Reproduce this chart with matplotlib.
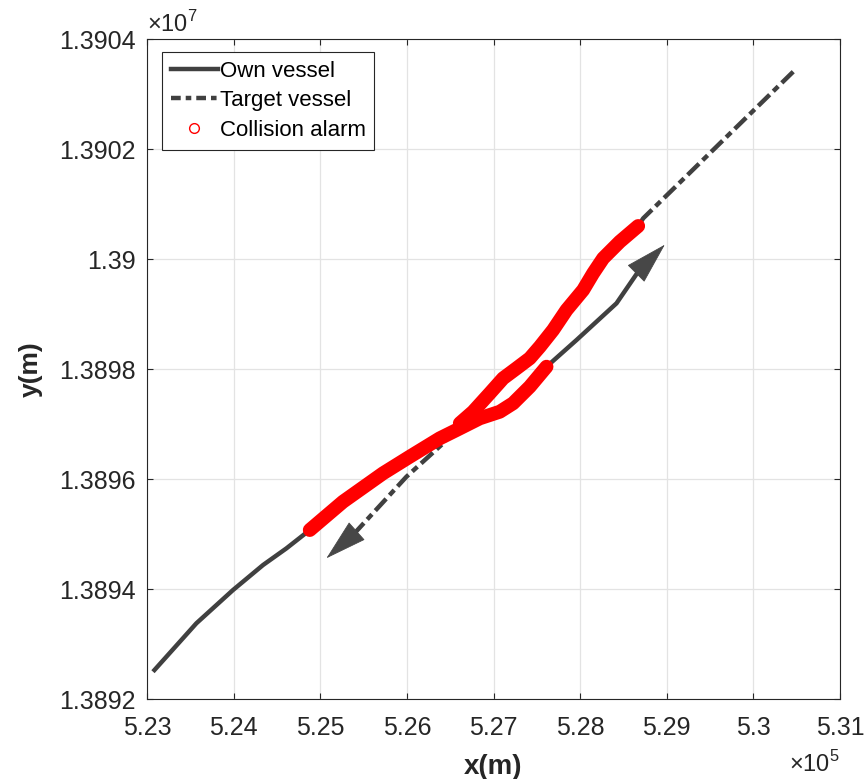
import matplotlib
matplotlib.use('Agg')
import matplotlib.pyplot as plt
from matplotlib.lines import Line2D
from matplotlib.ticker import FuncFormatter

plt.rcParams['font.family'] = ['Liberation Sans', 'DejaVu Sans']
plt.rcParams['mathtext.fontset'] = 'custom'
plt.rcParams['mathtext.rm'] = 'Liberation Sans'
plt.rcParams['lines.scale_dashes'] = False

# ---------------- data (metres) ----------------
own_x = [523069, 523570, 523993, 524340, 524610, 524879, 525263, 525725, 526033,
         526380, 526573, 526842, 527073, 527226, 527419, 527612, 527959, 528420,
         528678, 528978]
own_y = [13892502, 13893382, 13893987, 13894442, 13894745, 13895078, 13895593,
         13896109, 13896411, 13896745, 13896896, 13897109, 13897229, 13897382,
         13897684, 13898047, 13898533, 13899200, 13899793, 13900266]

tgt_x = [530460, 528728, 528670, 528458, 528266, 528150, 528035, 527843, 527688,
         527535, 527419, 527266, 527111, 526957, 526764, 526611, 526419, 525995,
         525404, 525071]
tgt_y = [13903411, 13900745, 13900605, 13900320, 13900018, 13899745, 13899442,
         13899078, 13898715, 13898411, 13898200, 13898018, 13897836, 13897564,
         13897229, 13897018, 13896654, 13896047, 13895033, 13894564]

# index ranges of the paths where the collision alarm is active
own_alarm = (5, 16)
tgt_alarm = (2, 16)

labels = ['Own vessel', 'Target vessel', 'Collision alarm']
x_ticks = [523000, 524000, 525000, 526000, 527000, 528000, 529000, 530000, 531000]
y_ticks = [13892000, 13894000, 13896000, 13898000, 13900000, 13902000, 13904000]

# ---------------- style ----------------
DARK = '#404040'
AX = '#262626'
RED = '#ff0000'
LW = 3.2
DASH = (0, (11.5, 3.6, 5.0, 3.6))

W, H = 868, 779
fig = plt.figure(figsize=(W / 100, H / 100), dpi=100)
L, R, T, B = 147, 840, 39.3, 699.3
ax = fig.add_axes([L / W, 1 - B / H, (R - L) / W, (B - T) / H])

ax.set_xlim(x_ticks[0], x_ticks[-1])
ax.set_ylim(y_ticks[0], y_ticks[-1])
ax.set_xticks(x_ticks)
ax.set_yticks(y_ticks)
ax.xaxis.set_major_formatter(FuncFormatter(lambda v, p: f'{v / 1e5:.4g}'))
ax.yaxis.set_major_formatter(FuncFormatter(lambda v, p: f'{v / 1e7:.5g}'))
ax.grid(True, color='#e3e3e3', lw=0.9, zorder=0)
ax.set_axisbelow(True)
ax.tick_params(direction='in', top=True, right=True, length=4.5, width=0.8,
               colors=AX, labelsize=18, pad=8)
ax.tick_params(axis='x', pad=12)
for s in ax.spines.values():
    s.set_color(AX)
    s.set_linewidth(0.8)

# trajectories (line up to arrow base, then arrow head)
ax.plot(own_x[:-1], own_y[:-1], color=DARK, lw=LW, solid_capstyle='butt',
        solid_joinstyle='round', zorder=2)
ax.plot(tgt_x[:-1], tgt_y[:-1], color=DARK, lw=LW, linestyle=DASH,
        dash_joinstyle='round', zorder=2)

# collision alarm segments
for xs, ys, (a, b) in ((own_x, own_y, own_alarm), (tgt_x, tgt_y, tgt_alarm)):
    ax.plot(xs[a:b], ys[a:b], color=RED, lw=10, solid_capstyle='round',
            solid_joinstyle='round', zorder=3)

# arrow heads (filled head, thin stroke so the tip lands on the end point)
for xs, ys in ((own_x, own_y), (tgt_x, tgt_y)):
    ax.annotate('', xy=(xs[-1], ys[-1]), xytext=(xs[-2], ys[-2]),
                arrowprops=dict(arrowstyle='-|>,head_length=2.8,head_width=0.8',
                                mutation_scale=10, color='#474747', lw=0.6,
                                shrinkA=0, shrinkB=0), zorder=4)

# labels
ax.set_xlabel('x(m)', fontsize=20, fontweight='bold', color=AX, labelpad=10)
ax.set_ylabel('y(m)', fontsize=19, fontweight='bold', color=AX, labelpad=12)
ax.annotate(r'$\times10^{7}$', xy=(0, 1), xycoords='axes fraction',
            xytext=(0, 2), textcoords='offset points', ha='left', va='bottom',
            fontsize=17, color=AX)
ax.annotate(r'$\times10^{5}$', xy=(1, 0), xycoords='axes fraction',
            xytext=(0, -37), textcoords='offset points', ha='right', va='top',
            fontsize=17, color=AX)

# legend
handles = [Line2D([], [], color=DARK, lw=LW),
           Line2D([], [], color=DARK, lw=LW, linestyle=(0, (7, 3.6, 4, 3.6))),
           Line2D([], [], color=RED, lw=0, marker='o', markersize=7,
                  markerfacecolor='none', markeredgewidth=1)]
leg = ax.legend(handles, labels, loc='upper left', bbox_to_anchor=(0.022, 0.981),
                fontsize=16, frameon=True, fancybox=False, framealpha=1,
                edgecolor=AX, handlelength=2.1, handletextpad=0.08,
                labelspacing=0.38, borderpad=0.4, borderaxespad=0)
leg.get_frame().set_linewidth(0.8)
for t in leg.get_texts():
    t.set_color('black')

fig.savefig('out.png', dpi=100)
